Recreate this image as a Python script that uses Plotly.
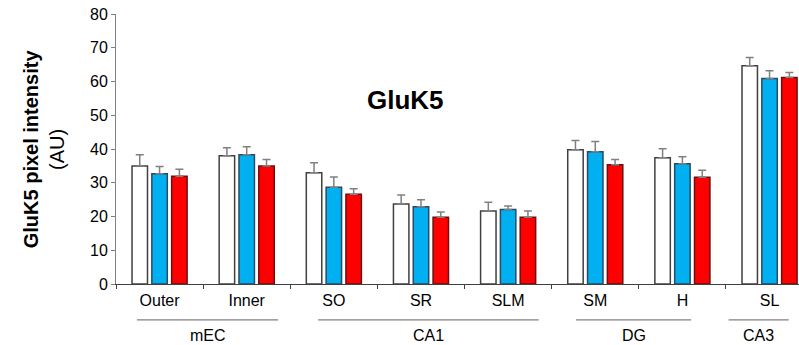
import plotly.graph_objects as go

categories = ["Outer", "Inner", "SO", "SR", "SLM", "SM", "H", "SL"]
control = [35.0, 38.0, 33.0, 23.7, 21.6, 39.8, 37.4, 64.7]
control_err = [3.3, 2.4, 2.9, 2.7, 2.6, 2.7, 2.7, 2.4]
group_b = [32.7, 38.3, 28.7, 22.9, 22.1, 39.2, 35.6, 60.9]
group_b_err = [2.1, 2.4, 3.0, 2.1, 1.0, 3.0, 2.1, 2.3]
group_c = [31.9, 35.0, 26.6, 19.8, 19.8, 35.3, 31.6, 61.2]
group_c_err = [2.1, 1.9, 1.6, 1.5, 1.8, 1.6, 2.1, 1.5]

regions = ["mEC", "CA1", "DG", "CA3"]
region_spans = [(-0.26, 1.36), (1.82, 4.35), (4.78, 6.10), (6.53, 7.22)]

FONT = "Liberation Sans, Arial, sans-serif"

fig = go.Figure()

def add_series(vals, errs, fill, line):
    fig.add_trace(go.Bar(
        x=categories, y=vals,
        marker=dict(color=fill, line=dict(color=line, width=1.5)),
        error_y=dict(type="data", symmetric=False, array=errs,
                     arrayminus=[0] * len(errs), color="#808080",
                     thickness=1.5, width=4),
        showlegend=False,
    ))

add_series(control, control_err, "#FFFFFF", "#404040")
add_series(group_b, group_b_err, "#00B0F0", "#2a4a66")
add_series(group_c, group_c_err, "#FF0000", "#6a1010")

shapes = []
annotations = []
for name, (x0, x1) in zip(regions, region_spans):
    shapes.append(dict(type="line", xref="x", yref="paper", x0=x0, x1=x1,
                       y0=-0.133, y1=-0.133,
                       line=dict(color="#808080", width=1.2)))
    annotations.append(dict(xref="x", yref="paper", x=(x0 + x1) / 2, y=-0.19,
                            text=name, showarrow=False, yanchor="middle",
                            font=dict(family=FONT, size=16, color="#000000")))

annotations.append(dict(xref="x", yref="y", x=2.82, y=54.5, text="<b>GluK5</b>",
                        showarrow=False,
                        font=dict(family=FONT, size=26, color="#000000")))
annotations.append(dict(xref="paper", yref="paper", x=-0.105, y=0.5,
                        xanchor="center", yanchor="middle",
                        text="<b>GluK5 pixel intensity</b><br>(AU)",
                        textangle=-90, showarrow=False,
                        font=dict(family=FONT, size=20, color="#000000")))

fig.update_layout(
    width=799, height=345,
    margin=dict(l=116, r=0, t=14, b=61),
    paper_bgcolor="white", plot_bgcolor="white",
    barmode="group", bargap=0.318, bargroupgap=0.22,
    font=dict(family=FONT, size=16, color="#000000"),
    shapes=shapes, annotations=annotations,
    xaxis=dict(
        type="category", range=[-0.5, 7.338],
        showline=True, linecolor="#404040", linewidth=1,
        ticks="outside", tickson="boundaries", ticklen=4,
        tickcolor="#404040", showgrid=False, zeroline=False,
        tickfont=dict(family=FONT, size=16), ticklabelstandoff=2,
    ),
    yaxis=dict(
        range=[0, 80], dtick=10,
        showline=True, linecolor="#808080", linewidth=1,
        ticks="outside", ticklen=4, tickcolor="#808080",
        showgrid=False, zeroline=False,
        tickfont=dict(family=FONT, size=16),
    ),
)

fig.write_html(
    "out.html",
    config={"displayModeBar": False},
    post_script="document.body.style.margin='0';document.body.style.overflow='hidden';",
)
